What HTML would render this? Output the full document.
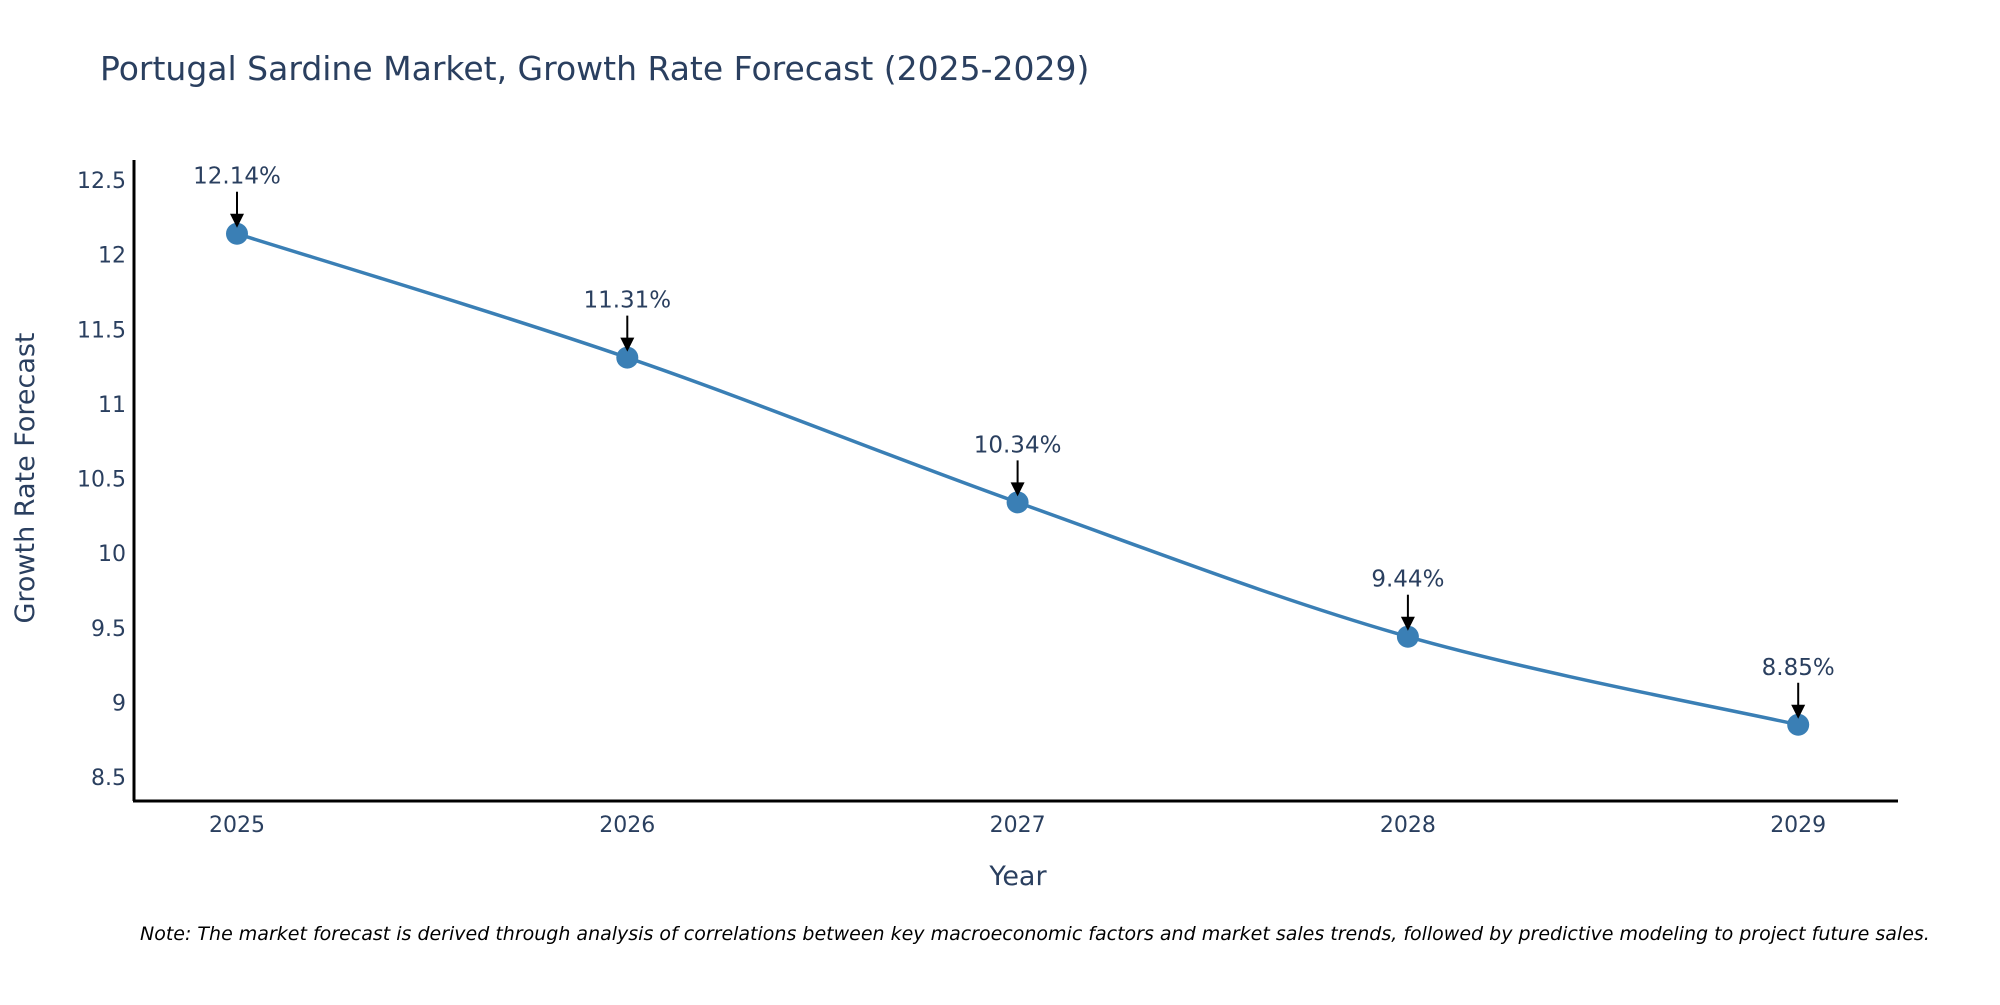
<!DOCTYPE html>
<html><head><meta charset="utf-8"><style>
body{margin:0;background:#fff;overflow:hidden;}
svg text{font-family:"DejaVu Sans","Liberation Sans",sans-serif;fill:#2a3f5f;}
</style></head><body>
<svg width="2000" height="1000" viewBox="0 0 2000 1000">
<text x="100" y="80" font-size="33">Portugal Sardine Market, Growth Rate Forecast (2025-2029)</text>
<g id="yticks"></g><g id="xticks"></g>
<line x1="134" y1="160" x2="134" y2="801" stroke="#000" stroke-width="3"/>
<line x1="133" y1="801" x2="1898" y2="801" stroke="#000" stroke-width="3"/>
<path id="line" fill="none" stroke="#3a7fb5" stroke-width="3.5"/>
<g id="marks"></g>
<text x="1018" y="885" font-size="27" text-anchor="middle">Year</text>
<text transform="translate(34,478) rotate(-90)" font-size="27" text-anchor="middle">Growth Rate Forecast</text>
<text x="140" y="940" font-size="19" font-style="italic" style="fill:#000">Note: The market forecast is derived through analysis of correlations between key macroeconomic factors and market sales trends, followed by predictive modeling to project future sales.</text>
</svg>
<script>
const years=[2025,2026,2027,2028,2029];
const values=[12.14,11.31,10.34,9.44,8.85];
const labels=["12.14%","11.31%","10.34%","9.44%","8.85%"];
const yTicks=[8.5,9,9.5,10,10.5,11,11.5,12,12.5];
const yTickLabels=["8.5","9","9.5","10","10.5","11","11.5","12","12.5"];
const NS="http://www.w3.org/2000/svg";
const X=v=>237+(v-2025)*390.3;
const Y=v=>180+(12.5-v)*149.25;
function mk(t,a,p){const e=document.createElementNS(NS,t);for(const k in a)e.setAttribute(k,a[k]);(p||document.querySelector('svg')).appendChild(e);return e;}
const yt=document.getElementById('yticks'),xt=document.getElementById('xticks'),mg=document.getElementById('marks');
yTicks.forEach((v,i)=>{const t=mk('text',{x:126,y:Y(v)+8,'font-size':22,'text-anchor':'end'},yt);t.textContent=yTickLabels[i];

});
years.forEach(v=>{const t=mk('text',{x:X(v),y:832,'font-size':22,'text-anchor':'middle'},xt);t.textContent=v;

});
const P=years.map((y,i)=>[X(y),Y(values[i])]);
let d=`M${P[0][0]},${P[0][1]}`;
for(let i=0;i<P.length-1;i++){const p0=P[Math.max(i-1,0)],p1=P[i],p2=P[i+1],p3=P[Math.min(i+2,P.length-1)];
d+=` C${p1[0]+(p2[0]-p0[0])/6},${p1[1]+(p2[1]-p0[1])/6} ${p2[0]-(p3[0]-p1[0])/6},${p2[1]-(p3[1]-p1[1])/6} ${p2[0]},${p2[1]}`;}
document.getElementById('line').setAttribute('d',d);
P.forEach((p,i)=>{
const c=mk('circle',{cx:p[0],cy:p[1],r:11,fill:'#3a7fb5'},mg);


const l=mk('line',{x1:p[0],y1:p[1]-42,x2:p[0],y2:p[1]-18,stroke:'#000','stroke-width':2},mg);


const h=mk('path',{d:`M${p[0]-7},${p[1]-20} L${p[0]+7},${p[1]-20} L${p[0]},${p[1]-6} Z`,fill:'#000'},mg);


const t=mk('text',{x:p[0],y:p[1]-50,'font-size':23,'text-anchor':'middle'},mg);t.textContent=labels[i];


});
</script>
</body></html>
